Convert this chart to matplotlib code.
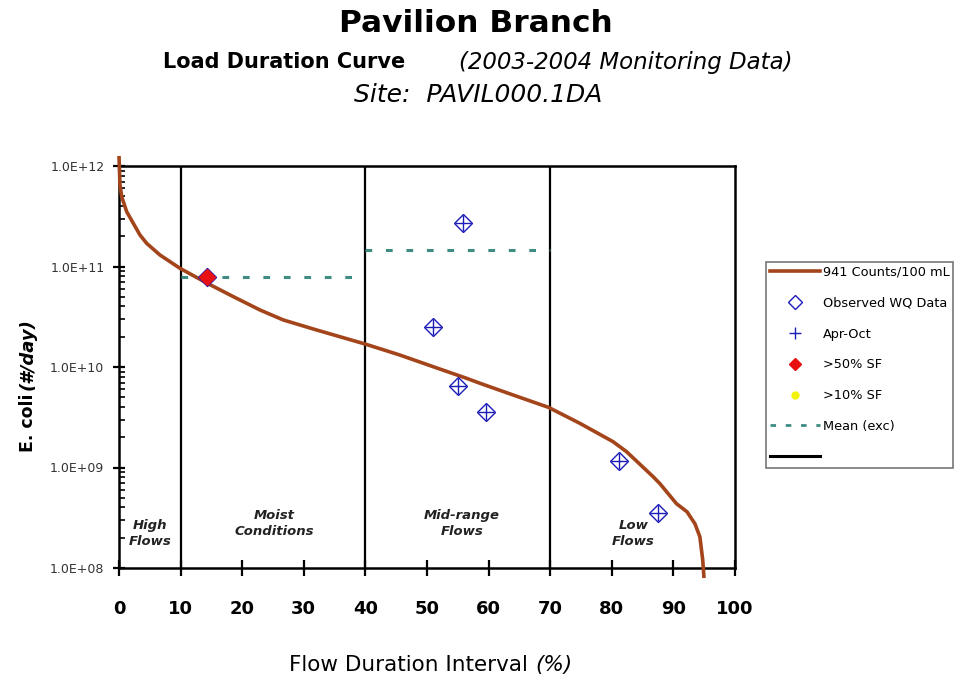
import matplotlib
matplotlib.use("Agg")
import matplotlib.pyplot as plt
from matplotlib.lines import Line2D
from matplotlib.ticker import FixedLocator, LogLocator, NullFormatter

# ---- data ----
curve_x = [0, 0.15, 0.44, 1.25, 2.32, 3.41, 4.5, 6.66, 9.9, 14.24, 18.56, 21.27, 22.9,
           26.67, 32.1, 39.94, 45.6, 51.0, 56.4, 58.6, 64.0, 69.7, 74.8, 80.2,
           82.4, 86.7, 87.8, 90.5, 92.2, 93.5, 94.3, 94.76, 94.97]
curve_log = [12.1, 11.82, 11.695, 11.545, 11.43, 11.313, 11.23, 11.114, 10.982, 10.836,
             10.70, 10.617, 10.567, 10.468, 10.368, 10.229, 10.119, 10.003, 9.888, 9.838,
             9.721, 9.599, 9.44, 9.257, 9.157, 8.909, 8.84, 8.64, 8.56, 8.44,
             8.31, 8.08, 7.9]
curve_y = [10 ** v for v in curve_log]

obs_x = [14.3, 51.0, 55.0, 55.9, 59.5, 81.1, 87.5]
obs_y = [7.8e10, 2.5e10, 6.5e9, 2.7e11, 3.6e9, 1.15e9, 3.55e8]

sf50_x = [14.3]
sf50_y = [7.8e10]

mean_x1 = [10, 40]
mean_y1 = [7.8e10, 7.8e10]
mean_x2 = [40, 70]
mean_y2 = [1.45e11, 1.45e11]

zone_bounds = [10, 40, 70]
zone_labels = ["High\nFlows", "Moist\nConditions", "Mid-range\nFlows", "Low\nFlows"]
zone_label_x = [5, 25.2, 55.7, 83.5]
zone_label_y = [2.2e8, 2.8e8, 2.8e8, 2.2e8]

xticks = [0, 10, 20, 30, 40, 50, 60, 70, 80, 90, 100]
yticks = [1e8, 1e9, 1e10, 1e11, 1e12]
ytick_labels = ["1.0E+08", "1.0E+09", "1.0E+10", "1.0E+11", "1.0E+12"]

legend_labels = ["941 Counts/100 mL", "Observed WQ Data", "Apr-Oct", ">50% SF",
                 ">10% SF", "Mean (exc)", ""]

# ---- style ----
brown = "#A3441A"
blue = "#1C1CB8"
teal = "#3E8C82"

W, H = 962, 689
fig = plt.figure(figsize=(W / 100, H / 100), dpi=100)
fig.patch.set_facecolor("white")

ax = fig.add_axes([119 / W, 1 - 568 / H, (735 - 119) / W, (568 - 166) / H])
ax.set_yscale("log")
ax.set_xlim(0, 100)
ax.set_ylim(1e8, 1e12)

for b in zone_bounds:
    ax.axvline(b, color="black", lw=1.6, zorder=2)

ax.plot(mean_x1, mean_y1, color=teal, lw=2.2, dashes=(2.2, 4.5), zorder=3)
ax.plot(mean_x2, mean_y2, color=teal, lw=2.2, dashes=(2.2, 4.5), zorder=3)

ax.plot(curve_x, curve_y, color=brown, lw=2.6, zorder=4, clip_on=False,
        solid_capstyle="butt", solid_joinstyle="round")

ax.plot(obs_x, obs_y, linestyle="none", marker="D", ms=9.5, mfc="none", mec=blue,
        mew=1.0, zorder=5)
ax.plot(obs_x, obs_y, linestyle="none", marker="+", ms=12, color=blue, mew=1.0,
        zorder=5)
ax.plot(sf50_x, sf50_y, linestyle="none", marker="D", ms=8, color="#E81010",
        mec="#E81010", zorder=6)

for lx, ly, lab in zip(zone_label_x, zone_label_y, zone_labels):
    ax.text(lx, ly, lab, ha="center", va="center", fontsize=9.5, style="italic",
            fontweight="bold", color="#222222", linespacing=1.3)

for s in ax.spines.values():
    s.set_linewidth(1.8)

ax.set_xticks(xticks)
ax.set_xticklabels([str(t) for t in xticks], fontsize=13, fontweight="bold")
ax.tick_params(axis="x", direction="inout", length=12, width=1.6, pad=17)
ax.yaxis.set_major_locator(FixedLocator(yticks))
ax.set_yticklabels(ytick_labels, fontsize=9, color="#333333")
ax.yaxis.set_minor_locator(LogLocator(base=10, subs=range(2, 10)))
ax.yaxis.set_minor_formatter(NullFormatter())
ax.tick_params(axis="y", which="major", direction="inout", length=9, width=1.6, pad=6)
ax.tick_params(axis="y", which="minor", direction="in", length=4, width=1.2)

# ---- legend ----
handles = [
    Line2D([], [], color=brown, lw=2.6),
    Line2D([], [], linestyle="none", marker="D", ms=7, mfc="none", mec=blue, mew=1.0),
    Line2D([], [], linestyle="none", marker="+", ms=8, color=blue, mew=1.0),
    Line2D([], [], linestyle="none", marker="D", ms=6, color="#E81010"),
    Line2D([], [], linestyle="none", marker="o", ms=5, color="#F2F20A"),
    Line2D([], [], color=teal, lw=2.0, dashes=(2, 3.5)),
    Line2D([], [], color="black", lw=2.2),
]
leg = fig.legend(handles, legend_labels, loc="upper left",
                 bbox_to_anchor=(766 / W, 1 - 262 / H), fontsize=9.3,
                 frameon=True, fancybox=False, labelspacing=1.38,
                 handlelength=3.9, handletextpad=0.2, borderpad=0.3,
                 borderaxespad=0)
leg.get_frame().set_edgecolor("#555555")
leg.get_frame().set_linewidth(1.2)

# ---- titles and labels ----
fig.text(476 / W, 1 - 24 / H, "Pavilion Branch", ha="center", va="center",
         fontsize=22.5, fontweight="bold")
fig.text(163 / W, 1 - 62 / H, "Load Duration Curve", ha="left", va="center",
         fontsize=15, fontweight="bold")
fig.text(793 / W, 1 - 62 / H, "(2003-2004 Monitoring Data)", ha="right", va="center",
         fontsize=16.5, style="italic")
fig.text(478 / W, 1 - 95 / H, "Site:  PAVIL000.1DA", ha="center", va="center",
         fontsize=18, style="italic")

fig.text(28 / W, 1 - 452 / H, "E. coli", rotation=90, ha="center", va="bottom",
         fontsize=12.5, fontweight="bold")
fig.text(28 / W, 1 - 390 / H, "(#/day)", rotation=90, ha="center", va="bottom",
         fontsize=13, fontweight="bold", style="italic")

fig.text(535 / W, 1 - 665 / H, "Flow Duration Interval ", ha="right", va="center",
         fontsize=15.5)
fig.text(535 / W, 1 - 665 / H, "(%)", ha="left", va="center", fontsize=15.5,
         style="italic")

fig.savefig("out.png", dpi=100, facecolor="white")
